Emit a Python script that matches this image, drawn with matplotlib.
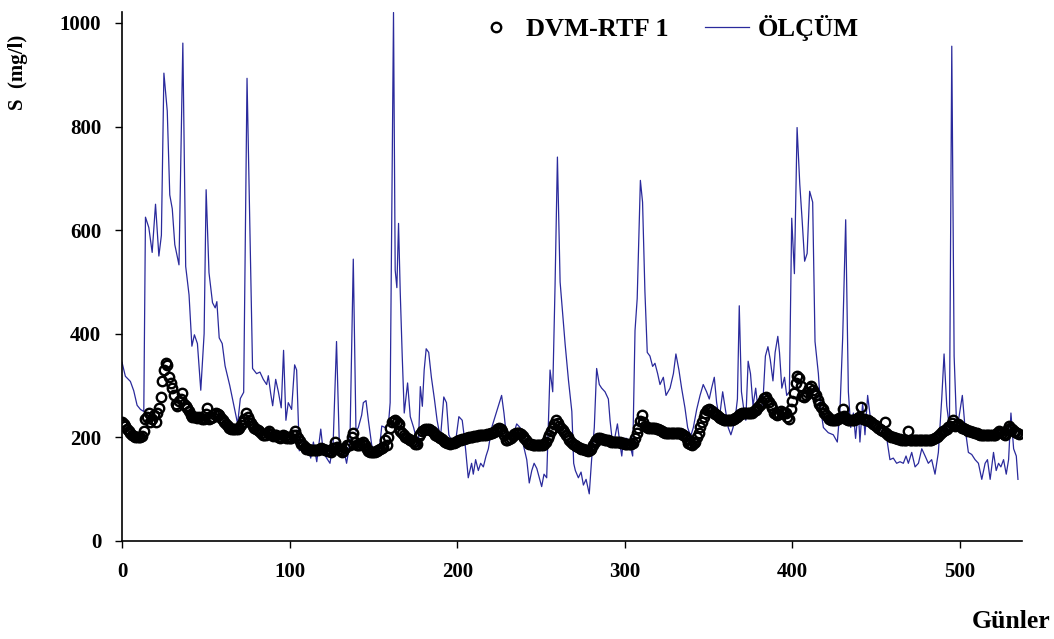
import matplotlib
matplotlib.use("Agg")
import matplotlib.pyplot as plt

# ---- DVM-RTF 1 model values (one per day, day 0..535) ----
model_vals = [
    229, 226, 222, 217, 212, 208, 205, 203, 201, 200,
    200, 200, 202, 212, 236, 240, 248, 229, 235, 243,
    229, 247, 257, 278, 309, 330, 343, 340, 316, 305,
    295, 281, 264, 261, 271, 275, 285, 264, 260, 257,
    250, 243, 240, 240, 240, 238, 240, 238, 236, 236,
    245, 257, 236, 238, 240, 245, 247, 245, 243, 238,
    233, 230, 226, 222, 219, 217, 216, 216, 216, 217,
    219, 224, 229, 236, 247, 240, 233, 228, 222, 219,
    216, 214, 212, 208, 205, 204, 204, 208, 212, 206,
    202, 204, 205, 200, 198, 200, 204, 202, 198, 198,
    198, 198, 204, 212, 205, 198, 193, 188, 185, 181,
    178, 177, 176, 176, 176, 176, 176, 176, 178, 179,
    177, 176, 175, 174, 173, 171, 180, 191, 182, 178,
    175, 172, 174, 180, 185, 185, 185, 200, 209, 191,
    186, 185, 186, 188, 191, 185, 178, 174, 171, 171,
    171, 172, 174, 176, 178, 180, 181, 195, 185, 200,
    219, 229, 232, 233, 230, 226, 212, 208, 205, 201,
    198, 196, 195, 193, 191, 188, 188, 202, 207, 212,
    214, 216, 216, 216, 214, 212, 208, 205, 202, 200,
    198, 196, 193, 191, 190, 189, 188, 189, 190, 191,
    193, 194, 195, 196, 197, 198, 199, 200, 200, 201,
    202, 202, 203, 204, 204, 204, 205, 205, 206, 207,
    208, 209, 211, 213, 216, 219, 217, 212, 204, 195,
    195, 196, 198, 202, 206, 209, 209, 209, 206, 202,
    198, 194, 190, 188, 187, 186, 186, 185, 185, 185,
    185, 186, 188, 192, 198, 205, 212, 219, 226, 233,
    228, 222, 219, 214, 210, 205, 200, 195, 191, 188,
    185, 183, 181, 179, 178, 177, 176, 175, 174, 176,
    178, 185, 191, 195, 198, 198, 197, 196, 195, 195,
    194, 193, 192, 191, 191, 191, 191, 191, 190, 189,
    188, 188, 188, 188, 188, 190, 198, 208, 219, 232,
    243, 230, 222, 220, 219, 219, 219, 218, 218, 217,
    216, 214, 212, 210, 209, 209, 209, 209, 209, 209,
    209, 209, 209, 209, 207, 204, 202, 196, 190, 187,
    186, 189, 192, 200, 209, 220, 229, 240, 247, 252,
    254, 252, 250, 248, 245, 243, 240, 238, 236, 234,
    233, 233, 233, 233, 233, 235, 238, 240, 243, 246,
    247, 247, 247, 247, 247, 247, 248, 250, 253, 256,
    260, 264, 268, 276, 278, 272, 268, 262, 256, 248,
    245, 243, 246, 250, 248, 247, 248, 240, 236, 254,
    270, 285, 305, 318, 315, 299, 280, 278, 281, 288,
    295, 299, 292, 286, 281, 272, 264, 259, 254, 248,
    243, 240, 236, 234, 233, 233, 234, 236, 238, 240,
    255, 242, 236, 234, 233, 233, 233, 234, 236, 237,
    240, 258, 236, 235, 234, 233, 231, 229, 226, 224,
    221, 219, 217, 214, 212, 230, 208, 205, 203, 201,
    200, 199, 198, 197, 196, 195, 195, 195, 195, 212,
    195, 195, 195, 195, 195, 195, 195, 195, 195, 195,
    195, 195, 195, 195, 196, 198, 200, 202, 206, 210,
    213, 215, 217, 220, 222, 228, 234, 222, 224, 226,
    222, 219, 218, 216, 215, 213, 212, 211, 210, 209,
    208, 206, 205, 205, 205, 205, 205, 204, 204, 204,
    205, 205, 208, 212, 210, 209, 206, 205, 215, 222,
    219, 216, 212, 210, 209, 207,
]
model_days = list(range(len(model_vals)))

# ---- ÖLÇÜM (measured) series: day, value ----
meas_days = [
    0, 2, 5, 7, 9, 11, 13, 14, 16, 18, 20, 22, 23.5, 25, 27, 28.5, 30, 31.5, 34, 36.3,
    38, 40, 41.7, 43.2, 45, 47, 49, 50.2, 51.9, 54, 55.6, 56.6, 58, 59.8, 61.5, 64.3,
    67, 69, 70.6, 72.6, 74.6, 77.9, 80.3, 82.3, 84.3, 86.3, 87.3, 88.7, 89.9, 91.7, 93.3,
    95, 96.4, 97.8, 99.2, 101.2, 103, 104.2, 105.8, 108.2, 110.6, 112.6, 114.2, 116.2,
    118.6, 120.1, 122.1, 124.1, 126, 128, 129.8, 132, 134, 136, 138, 139.6, 141, 143,
    144, 145.6, 147, 149, 152, 154, 155, 157, 159, 160, 162, 163, 164, 165, 166, 167.2,
    168.4, 170.4, 172, 174, 175.6, 176.8, 178, 179.2, 180.3, 181.5, 183, 184.6, 186.4,
    188, 190, 192, 193.6, 195, 197, 199, 201, 203, 204.6, 206.6, 208.6, 209.6, 211,
    212.6, 214, 215.6, 217.2, 218.6, 220.6, 222.6, 224.5, 226.5, 227.9, 229.5, 231.5,
    233.5, 235.5, 237.5, 239.5, 241.5, 243, 244.5, 245.9, 247.5, 249, 250.4, 251.8,
    253.4, 255.4, 257, 258.4, 259.8, 261.4, 262.8, 264.4, 266.4, 268.4, 269.5, 270.5,
    272.3, 273.9, 275.3, 276.9, 278.8, 280.2, 281.8, 283.2, 284.8, 286.2, 288.2, 290.2,
    291.2, 292.8, 294.2, 295.6, 297.2, 298.2, 299.2, 301.2, 303.1, 304.7, 306.1, 307.4,
    309.3, 310.6, 312, 313.4, 315, 316.6, 318, 319.6, 321, 323, 324.6, 327, 329, 330.5,
    332.3, 333.9, 335.9, 337.5, 339.3, 340.9, 342.9, 344.9, 346.8, 348.8, 350.4, 351.8,
    353.4, 354.8, 356.4, 358.4, 359.7, 361.7, 363.3, 364.6, 366, 367.2, 368.3, 369.6,
    371, 372.2, 373.6, 375, 376.5, 378.1, 379.5, 381.1, 382.5, 383.9, 385.4, 386.8,
    388.4, 389.7, 391.3, 392.3, 393.7, 395.3, 396.6, 398.2, 399.6, 401.2, 402.8, 404.4,
    405.8, 407.3, 408.8, 410.3, 412.1, 413.5, 415.5, 416.9, 418.5, 421.4, 424.4, 426.8,
    428.4, 430, 431.8, 433.4, 434.8, 436.4, 437.7, 439.3, 440.3, 441.9, 443.3, 444.9,
    446.7, 448.3, 450.3, 452.3, 454.3, 456.3, 458.2, 460.2, 462.2, 464.2, 466.2, 467.8,
    469.2, 471.2, 473.2, 475.2, 477.2, 479.2, 481.1, 483.1, 485.1, 487.1, 489.1, 490.5,
    492.1, 493.7, 495.1, 496.5, 498.1, 500.1, 501.4, 503, 505, 507, 509, 511, 513, 515,
    516.4, 518, 520, 521.6, 523, 524.4, 526, 527.6, 529, 530.4, 532, 533.6, 534.6,
]
meas_vals = [
    345, 318, 308, 290, 262, 254, 250, 625, 605, 557, 650, 550, 590, 903, 830, 668, 641, 572, 533, 961,
    530, 475, 376, 398, 381, 291, 400, 678, 518, 460, 450, 462, 392, 381, 338, 300,
    258, 226, 275, 287, 893, 333, 323, 326, 312, 302, 319, 285, 261, 312, 288,
    257, 368, 233, 267, 254, 340, 330, 174, 191, 188, 160, 191, 153,
    216, 171, 160, 150, 190, 385, 171, 180, 150, 191, 544, 212, 219, 243,
    267, 271, 233, 185, 164, 191, 222, 219, 226, 267, 1020, 523, 489, 613, 482, 357,
    247, 305, 240, 219, 198, 181, 298, 260, 330, 371, 364, 316, 274,
    233, 198, 278, 267, 205, 191, 191, 240, 233, 191, 122, 150, 129, 157,
    136, 150, 143, 164, 178, 219, 240, 260, 281, 247, 198, 198,
    205, 226, 219, 185, 157, 112, 136, 150, 140, 122, 105, 129,
    122, 330, 288, 495, 741, 500, 445, 380, 310, 250, 150, 136,
    122, 133, 108, 119, 91, 157, 219, 333, 302, 295, 288, 274,
    233, 185, 202, 226, 185, 164, 198, 198, 185, 164, 406, 468,
    696, 654, 482, 364, 357, 337, 343, 323, 302, 316, 281, 295, 323, 361,
    330, 295, 257, 219, 202, 219, 254, 281, 302, 288, 274, 295,
    316, 267, 236, 288, 261, 219, 205, 219, 240, 274, 454, 288,
    254, 233, 347, 323, 261, 295, 254, 247, 274, 357, 375, 350,
    309, 364, 395, 364, 295, 316, 281, 288, 623, 516, 798, 689,
    620, 540, 555, 675, 654, 385, 323, 254, 219, 209, 205, 191,
    254, 392, 620, 288, 219, 247, 198, 254, 191, 267, 205, 281,
    233, 219, 212, 205, 219, 198, 157, 160, 150, 153, 150, 164,
    150, 171, 143, 150, 178, 164, 150, 157, 129, 171, 274, 361,
    261, 219, 955, 357, 212, 254, 281, 219, 171, 167, 157, 150, 119, 150,
    157, 119, 171, 136, 150, 143, 157, 129, 157, 247, 178, 164, 119,
]

x_ticks = [0, 100, 200, 300, 400, 500]
y_ticks = [0, 200, 400, 600, 800, 1000]

plt.rcParams['font.family'] = ['Liberation Serif', 'DejaVu Serif']
plt.rcParams['font.weight'] = 'bold'

fig = plt.figure(figsize=(10.54, 6.39), dpi=100)
W, H = 1054, 639
ax = fig.add_axes([122 / W, 1 - 541 / H, (1022 - 122) / W, (541 - 12) / H])

ax.plot(meas_days, meas_vals, color='#2a2a9c', lw=0.9, label='ÖLÇÜM', zorder=2)
ax.plot(model_days, model_vals, linestyle='none', marker='o', markersize=6.8,
        markerfacecolor='none', markeredgecolor='black', markeredgewidth=1.7,
        label='DVM-RTF 1', zorder=3)

ax.set_xlim(0, 537)
ax.set_ylim(0, 1021)
ax.set_xticks(x_ticks)
ax.set_yticks(y_ticks)
ax.tick_params(direction='out', length=5, width=1, labelsize=15, pad=10)
ax.spines['top'].set_visible(False)
ax.spines['right'].set_visible(False)
for s in ('left', 'bottom'):
    ax.spines[s].set_linewidth(1.2)
for lab in ax.get_xticklabels() + ax.get_yticklabels():
    lab.set_fontweight('bold')

handles, labels = ax.get_legend_handles_labels()
leg = ax.legend([handles[1], handles[0]], [labels[1], labels[0]],
                loc='center', bbox_to_anchor=(666 / W, 1 - 28 / H),
                bbox_transform=fig.transFigure, ncol=2, frameon=False,
                prop={'size': 19, 'weight': 'bold'}, handlelength=1.7,
                columnspacing=1.35, handletextpad=0.3)

fig.text(18 / W, 1 - 72 / H, 'S  (mg/l)', rotation=90, ha='center', va='center',
         fontsize=15, fontweight='bold')
fig.text(1011 / W, 1 - 622 / H, 'Günler', ha='center', va='center',
         fontsize=18.5, fontweight='bold')

fig.savefig('out.png', dpi=100)
